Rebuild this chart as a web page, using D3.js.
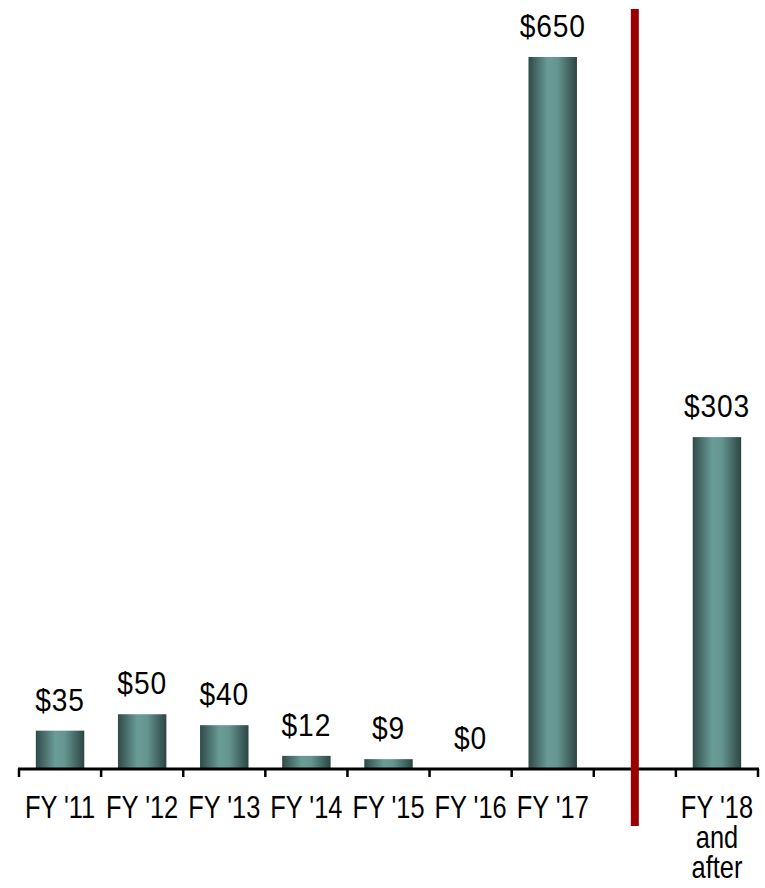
<!DOCTYPE html>
<html lang="en">
<head>
  <meta charset="UTF-8">
  <title>Bar_Chart</title>
  <script src="https://cdn.jsdelivr.net/npm/d3@7"></script>
  <style>
    body { margin: 0; background: #fff; }
    text { font-family: "Liberation Sans", Arial, sans-serif; fill: #000; }
  </style>
</head>
<body>
  <div id="my_bar_chart"></div>

  <script>
    const width = 765,
      height = 888;

    // slot "gap" holds the red divider, no bar
    const categories = ["FY '11", "FY '12", "FY '13", "FY '14", "FY '15", "FY '16", "FY '17", "gap", "FY '18"];
    const values = [35, 50, 40, 12, 9, 0, 650, null, 303];
    const labels = ["$35", "$50", "$40", "$12", "$9", "$0", "$650", "", "$303"];
    const tickLines = [["FY '11"], ["FY '12"], ["FY '13"], ["FY '14"], ["FY '15"], ["FY '16"], ["FY '17"], [], ["FY '18", "and", "after"]];

    const baseY = 769;

    const x = d3.scaleBand()
      .domain(categories)
      .range([19, 758])
      .paddingInner(0.41)
      .paddingOuter(0.205);

    const slot = d3.scaleBand()
      .domain(categories)
      .range([19, 758]);

    const y = d3.scaleLinear()
      .domain([0, 650])
      .range([baseY, 57]);

    const svg = d3.select('#my_bar_chart')
      .append('svg')
        .attr('width', width)
        .attr('height', height);

    const grad = svg.append('defs').append('linearGradient')
      .attr('id', 'barGrad')
      .attr('x1', '0%').attr('x2', '100%').attr('y1', '0%').attr('y2', '0%');
    grad.append('stop').attr('offset', '0%').attr('stop-color', '#2f4a49');
    grad.append('stop').attr('offset', '40%').attr('stop-color', '#6a9c97');
    grad.append('stop').attr('offset', '60%').attr('stop-color', '#659590');
    grad.append('stop').attr('offset', '100%').attr('stop-color', '#2c4544');

    const data = categories.map((c, i) => ({c, v: values[i], label: labels[i], lines: tickLines[i]}));

    svg.selectAll('rect.bar')
      .data(data.filter(d => d.v !== null))
      .join('rect')
        .attr('class', 'bar')
        .attr('x', d => x(d.c))
        .attr('width', x.bandwidth())
        .attr('y', d => y(d.v))
        .attr('height', d => baseY - y(d.v))
        .attr('fill', 'url(#barGrad)');

    // condensed look: squeeze the text horizontally
    svg.selectAll('text.val')
      .data(data.filter(d => d.v !== null))
      .join('text')
        .attr('class', 'val')
        .attr('transform', d => `translate(${x(d.c) + x.bandwidth() / 2},${y(d.v) - 20}) scale(0.88,1)`)
        .attr('text-anchor', 'middle')
        .style('font-size', '32px')
        .style('letter-spacing', '1px')
        .text(d => d.label);

    // axis line + ticks
    svg.append('line')
      .attr('x1', 18).attr('x2', 759)
      .attr('y1', baseY).attr('y2', baseY)
      .attr('stroke', '#000').attr('stroke-width', 3);

    const tickPos = categories.map(c => slot(c)).concat([758]);
    svg.selectAll('line.tick')
      .data(tickPos)
      .join('line')
        .attr('class', 'tick')
        .attr('x1', d => d).attr('x2', d => d)
        .attr('y1', baseY).attr('y2', baseY + 8)
        .attr('stroke', '#000').attr('stroke-width', 2.5);

    // divider
    svg.append('line')
      .attr('x1', slot('gap') + slot.bandwidth() / 2)
      .attr('x2', slot('gap') + slot.bandwidth() / 2)
      .attr('y1', 9).attr('y2', 826)
      .attr('stroke', '#9b0000').attr('stroke-width', 8);

    const cat = svg.selectAll('text.cat')
      .data(data)
      .join('text')
        .attr('class', 'cat')
        .attr('text-anchor', 'middle')
        .attr('transform', d => `translate(${slot(d.c) + slot.bandwidth() / 2},818) scale(0.82,1)`)
        .style('font-size', '31px');

    cat.selectAll('tspan')
      .data(d => d.lines.map((l, i) => ({l, i})))
      .join('tspan')
        .attr('x', 0)
        .attr('dy', d => d.i === 0 ? 0 : 30)
        .text(d => d.l);
  </script>
</body>
</html>
